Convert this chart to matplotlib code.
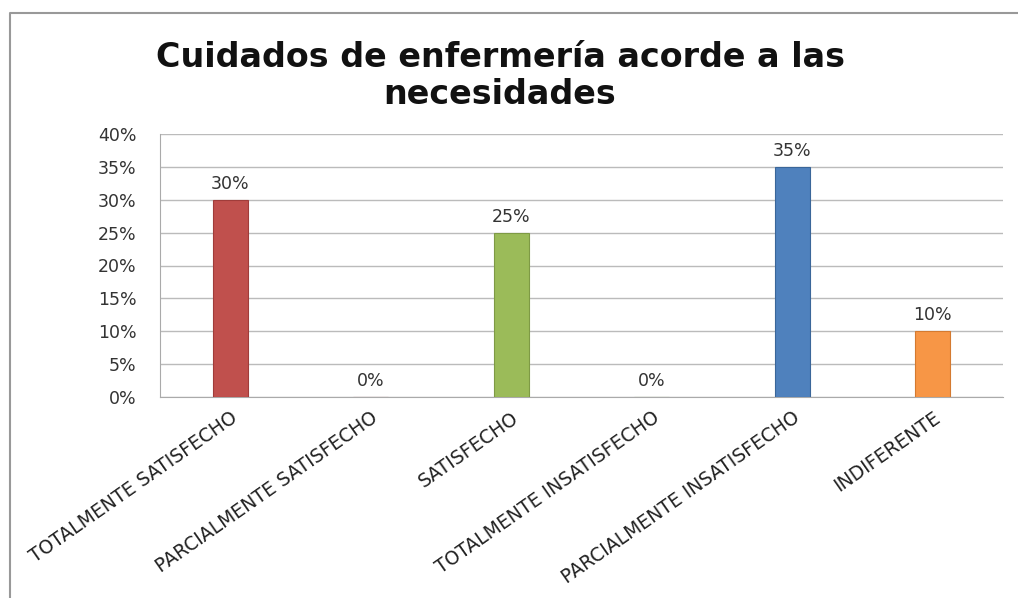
import matplotlib
matplotlib.use("Agg")
import matplotlib.pyplot as plt
from matplotlib.lines import Line2D

categories = ["TOTALMENTE SATISFECHO", "PARCIALMENTE SATISFECHO", "SATISFECHO",
              "TOTALMENTE INSATISFECHO", "PARCIALMENTE INSATISFECHO", "INDIFERENTE"]
values = [30, 0, 25, 0, 35, 10]
colors = ["#C0504D", "#C0504D", "#9BBB59", "#9BBB59", "#4F81BD", "#F79646"]
edge_colors = ["#A03C3A", "#A03C3A", "#7E9A45", "#7E9A45", "#3A6699", "#D47A30"]
yticks = [0, 5, 10, 15, 20, 25, 30, 35, 40]
title = "Cuidados de enfermería acorde a las\nnecesidades"

plt.rcParams['font.family'] = ['DejaVu Sans']

fig = plt.figure(figsize=(10.18, 5.98), dpi=100)
# outer frame (left and top edges)
fig.lines.append(Line2D([10/1018, 10/1018, 1.0], [0, 1 - 13/598, 1 - 13/598],
                        transform=fig.transFigure, color="#999999", linewidth=1.5))
ax = fig.add_axes([160/1018, 1 - 397/598, (1003-160)/1018, (397-134)/598])

x = list(range(len(categories)))
ax.bar(x, values, width=0.25, color=colors, edgecolor=edge_colors, linewidth=0.8, zorder=3)
for xi, v in zip(x, values):
    ax.annotate(f"{v}%", (xi, v), xytext=(0, 5), textcoords="offset points",
                ha="center", va="bottom", fontsize=12.5, color="#333333", zorder=4)

ax.set_xlim(-0.5, len(categories) - 0.5)
ax.set_ylim(0, 40)
ax.set_yticks(yticks)
ax.set_yticklabels([f"{t}%" for t in yticks], fontsize=12.5, color="#333333")
ax.yaxis.grid(True, color="#BBBBBB", linewidth=1, zorder=0)
ax.set_axisbelow(True)
ax.tick_params(axis="y", length=0, pad=17)
ax.tick_params(axis="x", length=0, pad=8)
ax.set_xticks(x)
ax.set_xticklabels(categories, rotation=35, ha="right", rotation_mode="anchor",
                   fontsize=13.5, color="#222222")
for s in ["top", "right"]:
    ax.spines[s].set_visible(False)
ax.spines["left"].set_color("#AAAAAA")
ax.spines["bottom"].set_color("#AAAAAA")

fig.text(500/1018, 1 - 76/598, title, ha="center", va="center", fontsize=24,
         fontweight="bold", color="#111111", linespacing=1.12)

fig.savefig("out.png", dpi=100)
